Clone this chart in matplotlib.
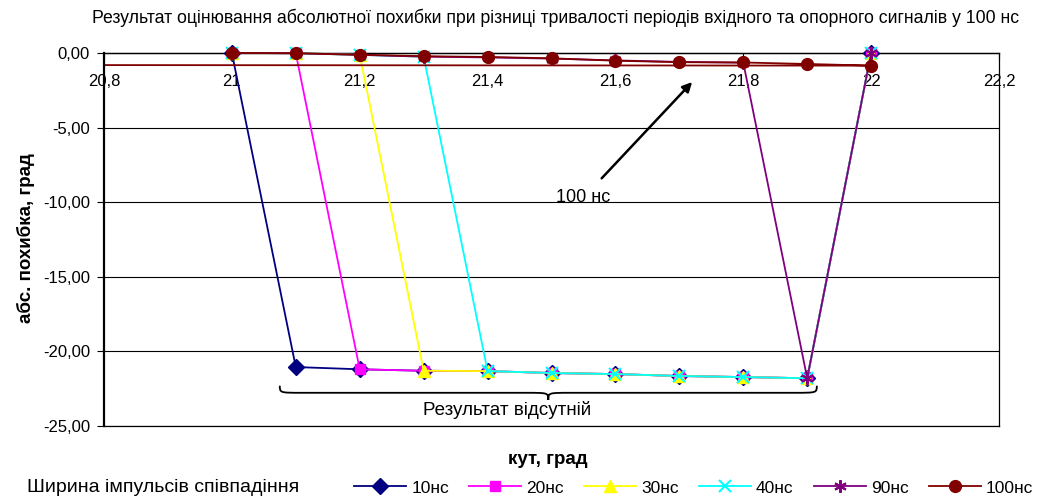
import matplotlib
matplotlib.use('Agg')
import matplotlib.pyplot as plt
from matplotlib.path import Path
from matplotlib.patches import PathPatch
from matplotlib.ticker import FuncFormatter, MultipleLocator

plt.rcParams['font.family'] = ['Liberation Sans', 'DejaVu Sans']

# --- data ---
angle = [21.0, 21.1, 21.2, 21.3, 21.4, 21.5, 21.6, 21.7, 21.8, 21.9, 22.0]
err_10 = [0.00, -21.05, -21.20, -21.30, -21.32, -21.45, -21.52, -21.65, -21.72, -21.80, 0.00]
err_20 = [0.00, -0.02, -21.20, -21.30, -21.32, -21.45, -21.52, -21.65, -21.72, -21.80, 0.00]
err_30 = [0.00, -0.02, -0.13, -21.30, -21.32, -21.45, -21.52, -21.65, -21.72, -21.80, 0.00]
err_40 = [0.00, -0.02, -0.13, -0.25, -21.32, -21.45, -21.52, -21.65, -21.72, -21.80, 0.00]
err_90 = [0.00, -0.02, -0.13, -0.25, -0.30, -0.38, -0.50, -0.60, -0.65, -21.80, 0.00]
# 100 ns series has one extra point that runs back off the left edge
angle_100 = angle + [20.0]
err_100 = [0.00, -0.02, -0.12, -0.22, -0.27, -0.36, -0.52, -0.62, -0.64, -0.74, -0.85, -0.79]

labels = ['10нс', '20нс', '30нс', '40нс', '90нс', '100нс']
title = ('Результат оцінювання абсолютної похибки при різниці тривалості '
         'періодів вхідного та опорного сигналів у 100 нс')

colors = ['#000080', '#FF00FF', '#FFFF00', '#00FFFF', '#800080', '#800000']
markers = ['D', 's', '^', 'x', (6, 2, 0), 'o']
msizes = [8, 7.5, 9, 8, 9, 8.5]

fig = plt.figure(figsize=(10.51, 5.01), dpi=100)
ax = fig.add_axes([104 / 1051, 1 - 426 / 501, 895 / 1051, (426 - 41) / 501])

series = [(angle, err_10), (angle, err_20), (angle, err_30),
          (angle, err_40), (angle, err_90), (angle_100, err_100)]
for (xs, ys), c, m, ms, lab in zip(series, colors, markers, msizes, labels):
    mew = 1.5 if m in ('x', (6, 2, 0)) else 1
    ax.plot(xs, ys, color=c, marker=m, markersize=ms, markeredgewidth=mew,
            linewidth=1.3, label=lab)

ax.set_xlim(20.8, 22.2)
ax.set_ylim(-25, 0.8)
ax.xaxis.set_major_locator(MultipleLocator(0.2))
ax.set_yticks([0, -5, -10, -15, -20, -25])
ax.xaxis.set_major_formatter(FuncFormatter(lambda v, p: ('%g' % round(v, 1)).replace('.', ',')))
ax.yaxis.set_major_formatter(FuncFormatter(lambda v, p: ('%.2f' % v).replace('.', ',')))

ax.spines['top'].set_visible(False)
ax.spines['bottom'].set_position(('data', 0))
ax.spines['left'].set_bounds(-25, 0)
ax.spines['right'].set_bounds(-25, 0)
ax.spines['left'].set_linewidth(1.6)
ax.spines['right'].set_linewidth(0.9)
ax.spines['bottom'].set_linewidth(1.0)
ax.spines['bottom'].set_zorder(1)

ax.tick_params(axis='x', direction='out', length=4, pad=11, labelsize=12)
ax.tick_params(axis='y', direction='out', length=5, pad=5, labelsize=12)
ax.grid(axis='y', color='black', linewidth=0.8)
ax.axhline(-25, color='black', linewidth=0.9, clip_on=False)
ax.set_axisbelow(True)

# annotation arrow
ax.annotate('100 нс', xy=(21.72, -1.95), xytext=(21.55, -9.7),
            fontsize=13, ha='center', va='center',
            arrowprops=dict(arrowstyle='-|>', color='black', lw=1.8,
                            mutation_scale=14, shrinkA=8, shrinkB=0))

# curly brace under the missing-result region
bx0, bx1, by0, bd = 21.075, 21.915, -22.3, 0.95
bxm = (bx0 + bx1) / 2
h = bd / 2
e = 0.035
verts = [(bx0, by0), (bx0, by0 - h), (bx0, by0 - h), (bx0 + e, by0 - h),
         (bxm - e, by0 - h),
         (bxm, by0 - h), (bxm, by0 - h), (bxm, by0 - bd),
         (bxm, by0 - h), (bxm, by0 - h), (bxm + e, by0 - h),
         (bx1 - e, by0 - h),
         (bx1, by0 - h), (bx1, by0 - h), (bx1, by0)]
codes = [Path.MOVETO, Path.CURVE4, Path.CURVE4, Path.CURVE4,
         Path.LINETO,
         Path.CURVE4, Path.CURVE4, Path.CURVE4,
         Path.CURVE4, Path.CURVE4, Path.CURVE4,
         Path.LINETO,
         Path.CURVE4, Path.CURVE4, Path.CURVE4]
ax.add_patch(PathPatch(Path(verts, codes), facecolor='none', edgecolor='black', lw=1.3))
ax.text(21.43, -23.95, 'Результат відсутній', fontsize=13.5, ha='center', va='center')

fig.text(556 / 1051, 1 - 18 / 501, title, fontsize=12.7, ha='center', va='center')
fig.text(548 / 1051, 1 - 460 / 501, 'кут, град', fontsize=13.5, fontweight='bold',
         ha='center', va='center')
fig.text(26 / 1051, 1 - 238 / 501, 'абс. похибка, град', fontsize=13.5, fontweight='bold',
         rotation=90, ha='center', va='center')

fig.text(27 / 1051, 1 - 488 / 501, 'Ширина імпульсів співпадіння', fontsize=14,
         ha='left', va='center')
handles, labs = ax.get_legend_handles_labels()
fig.legend(handles, labs, loc='center left', bbox_to_anchor=(354 / 1051, 1 - 488 / 501),
           ncol=6, frameon=False, fontsize=12.5, handlelength=3.0, handletextpad=0.3,
           columnspacing=1.15, borderpad=0, borderaxespad=0)

fig.savefig('out.png', dpi=100)
